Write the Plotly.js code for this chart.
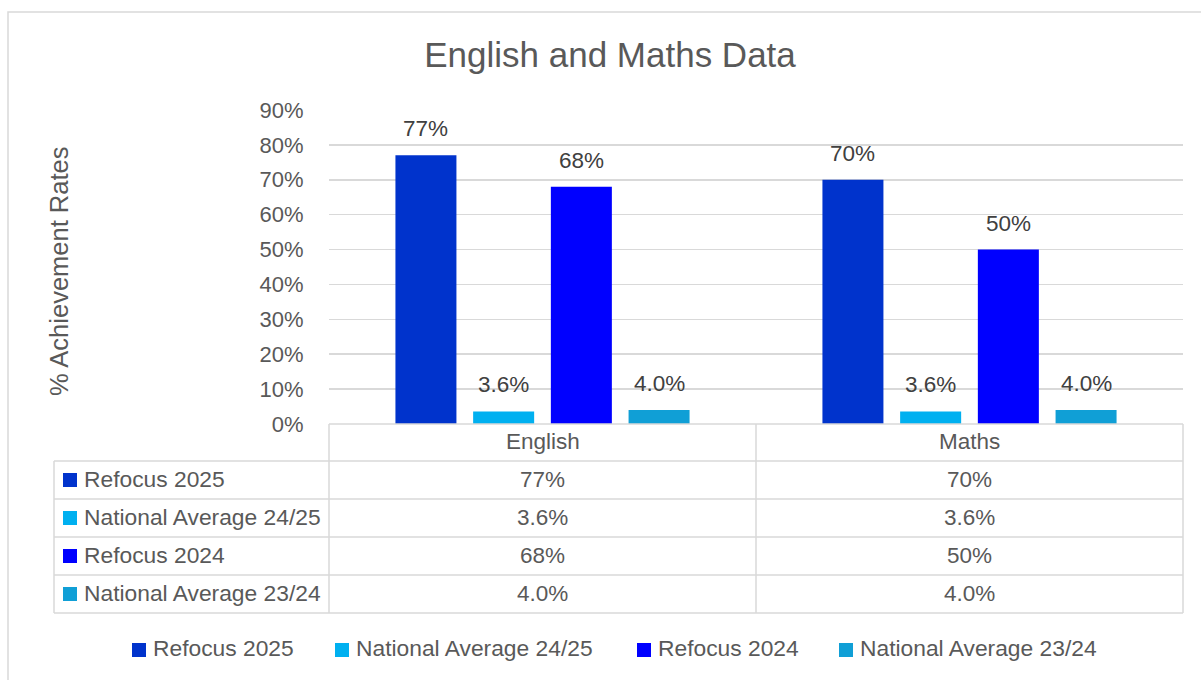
<!DOCTYPE html>
<html>
<head>
<meta charset="utf-8">
<script src="https://cdn.plot.ly/plotly-3.0.1.min.js"></script>
<style>html,body{margin:0;padding:0;background:#fff;}#chart{width:1201px;height:680px;}</style>
</head>
<body>
<div id="chart"></div>
<script>
// ---- data ----
const categories = ['English', 'Maths'];
const seriesNames = ['Refocus 2025', 'National Average 24/25', 'Refocus 2024', 'National Average 23/24'];
const refocus2025 = [0.77, 0.70];
const national2425 = [0.036, 0.036];
const refocus2024 = [0.68, 0.50];
const national2324 = [0.04, 0.04];
const seriesFormats = ['.0%', '.1%', '.0%', '.1%'];
const yTickValues = [0, 0.1, 0.2, 0.3, 0.4, 0.5, 0.6, 0.7, 0.8, 0.9];
const titleText = 'English and Maths Data';
const yTitleText = '% Achievement Rates';

// ---- styles ----
const seriesValues = [refocus2025, national2425, refocus2024, national2324];
const colors = ['#0033CC', '#00B0F0', '#0000FF', '#109FD6'];
const FONT = '"Liberation Sans", Arial, sans-serif';
const TXT = '#595959';
const GRID = '#d9d9d9';
const W = 1201, H = 680, L = 329, R = 1183, T = 110, B = 424;
const px2x = p => (p - L) / (R - L);
const py2y = p => (B - p) / (B - T);
function fmtPct(v, f) {
  const d = f === '.1%' ? 1 : 0;
  return (v * 100).toFixed(d) + '%';
}

const traces = seriesNames.map((name, i) => ({
  type: 'bar',
  name: name,
  x: categories,
  y: seriesValues[i],
  marker: {color: colors[i], line: {width: 0}},
  hoverinfo: 'none',
  showlegend: false
}));

const slot = (R - L) / categories.length * (1 - 0.272) / seriesNames.length;
const annotations = [];
const shapes = [];

// data labels
seriesNames.forEach((name, i) => {
  categories.forEach((c, j) => {
    annotations.push({
      xref: 'x', yref: 'y', x: c, y: seriesValues[i][j],
      xshift: (i - 1.5) * slot, yshift: 12,
      yanchor: 'bottom', xanchor: 'center', showarrow: false,
      text: fmtPct(seriesValues[i][j], seriesFormats[i]),
      font: {family: FONT, size: 22.5, color: '#404040'}
    });
  });
});

// title of y axis
annotations.push({
  xref: 'paper', yref: 'paper', x: px2x(59), y: py2y(272),
  xanchor: 'center', yanchor: 'middle', showarrow: false, textangle: -90,
  text: yTitleText, font: {family: FONT, size: 25.5, color: TXT}
});

// data table
const rowTops = [424, 461, 499, 537, 575, 613];
const tblLeft = 54, colMid = 756;
const line = {color: GRID, width: 1.5};
const hline = (x0, x1, y) => shapes.push({type: 'line', xref: 'paper', yref: 'paper', x0: px2x(x0), x1: px2x(x1), y0: py2y(y), y1: py2y(y), line: line});
const vline = (x, y0, y1) => shapes.push({type: 'line', xref: 'paper', yref: 'paper', x0: px2x(x), x1: px2x(x), y0: py2y(y0), y1: py2y(y1), line: line});
hline(L, R, rowTops[0]);
for (let k = 1; k < rowTops.length; k++) hline(tblLeft, R, rowTops[k]);
vline(tblLeft, rowTops[1], rowTops[5]);
vline(L, rowTops[0], rowTops[5]);
vline(colMid, rowTops[0], rowTops[5]);
vline(R, rowTops[0], rowTops[5]);

categories.forEach((c, j) => {
  annotations.push({
    xref: 'x', yref: 'paper', x: c, y: py2y((rowTops[0] + rowTops[1]) / 2 - 1),
    xanchor: 'center', yanchor: 'middle', showarrow: false,
    text: c, font: {family: FONT, size: 22.5, color: TXT}
  });
});
seriesNames.forEach((name, i) => {
  const cy = (rowTops[i + 1] + rowTops[i + 2]) / 2;
  shapes.push({type: 'rect', xref: 'paper', yref: 'paper', x0: px2x(63), x1: px2x(77), y0: py2y(cy - 7), y1: py2y(cy + 7), fillcolor: colors[i], line: {width: 0}});
  annotations.push({
    xref: 'paper', yref: 'paper', x: px2x(82), y: py2y(cy - 1),
    xanchor: 'left', yanchor: 'middle', showarrow: false,
    text: name, font: {family: FONT, size: 22.8, color: TXT}
  });
  categories.forEach((c, j) => {
    annotations.push({
      xref: 'x', yref: 'paper', x: c, y: py2y(cy - 1),
      xanchor: 'center', yanchor: 'middle', showarrow: false,
      text: fmtPct(seriesValues[i][j], seriesFormats[i]),
      font: {family: FONT, size: 22.5, color: TXT}
    });
  });
});

// legend
const legSq = [132, 335, 637, 839];
seriesNames.forEach((name, i) => {
  const cy = 650;
  shapes.push({type: 'rect', xref: 'paper', yref: 'paper', x0: px2x(legSq[i]), x1: px2x(legSq[i] + 14), y0: py2y(cy - 7), y1: py2y(cy + 7), fillcolor: colors[i], line: {width: 0}});
  annotations.push({
    xref: 'paper', yref: 'paper', x: px2x(legSq[i] + 19), y: py2y(cy - 2),
    xanchor: 'left', yanchor: 'middle', showarrow: false,
    text: name, font: {family: FONT, size: 22.8, color: TXT}
  });
});

// chart border
shapes.push({type: 'rect', xref: 'paper', yref: 'paper', x0: px2x(8), x1: px2x(1215), y0: py2y(12), y1: py2y(700), line: {color: GRID, width: 1.5}, fillcolor: 'rgba(0,0,0,0)', layer: 'below'});

const layout = {
  width: W, height: H, autosize: false,
  margin: {l: L, r: W - R, t: T, b: H - B, pad: 0},
  paper_bgcolor: '#ffffff', plot_bgcolor: '#ffffff',
  title: {text: titleText, font: {family: FONT, size: 35, color: TXT}, xref: 'container', x: 610 / W, xanchor: 'center', yref: 'container', y: 1 - 55 / H, yanchor: 'middle'},
  barmode: 'group', bargap: 0.272, bargroupgap: 0.215,
  showlegend: false,
  xaxis: {type: 'category', range: [-0.5, 1.5], showticklabels: false, showgrid: false, zeroline: false, showline: false, fixedrange: true},
  yaxis: {range: [0, 0.9], tickvals: yTickValues, tickformat: '.0%', showgrid: true, gridcolor: GRID, gridwidth: 1.5, zeroline: false, showline: false,
    ticks: 'outside', ticklen: 20, tickcolor: 'rgba(0,0,0,0)', tickfont: {family: FONT, size: 22, color: TXT}, fixedrange: true},
  annotations: annotations,
  shapes: shapes
};

Plotly.newPlot('chart', traces, layout, {displayModeBar: false, staticPlot: true});
</script>
</body>
</html>
